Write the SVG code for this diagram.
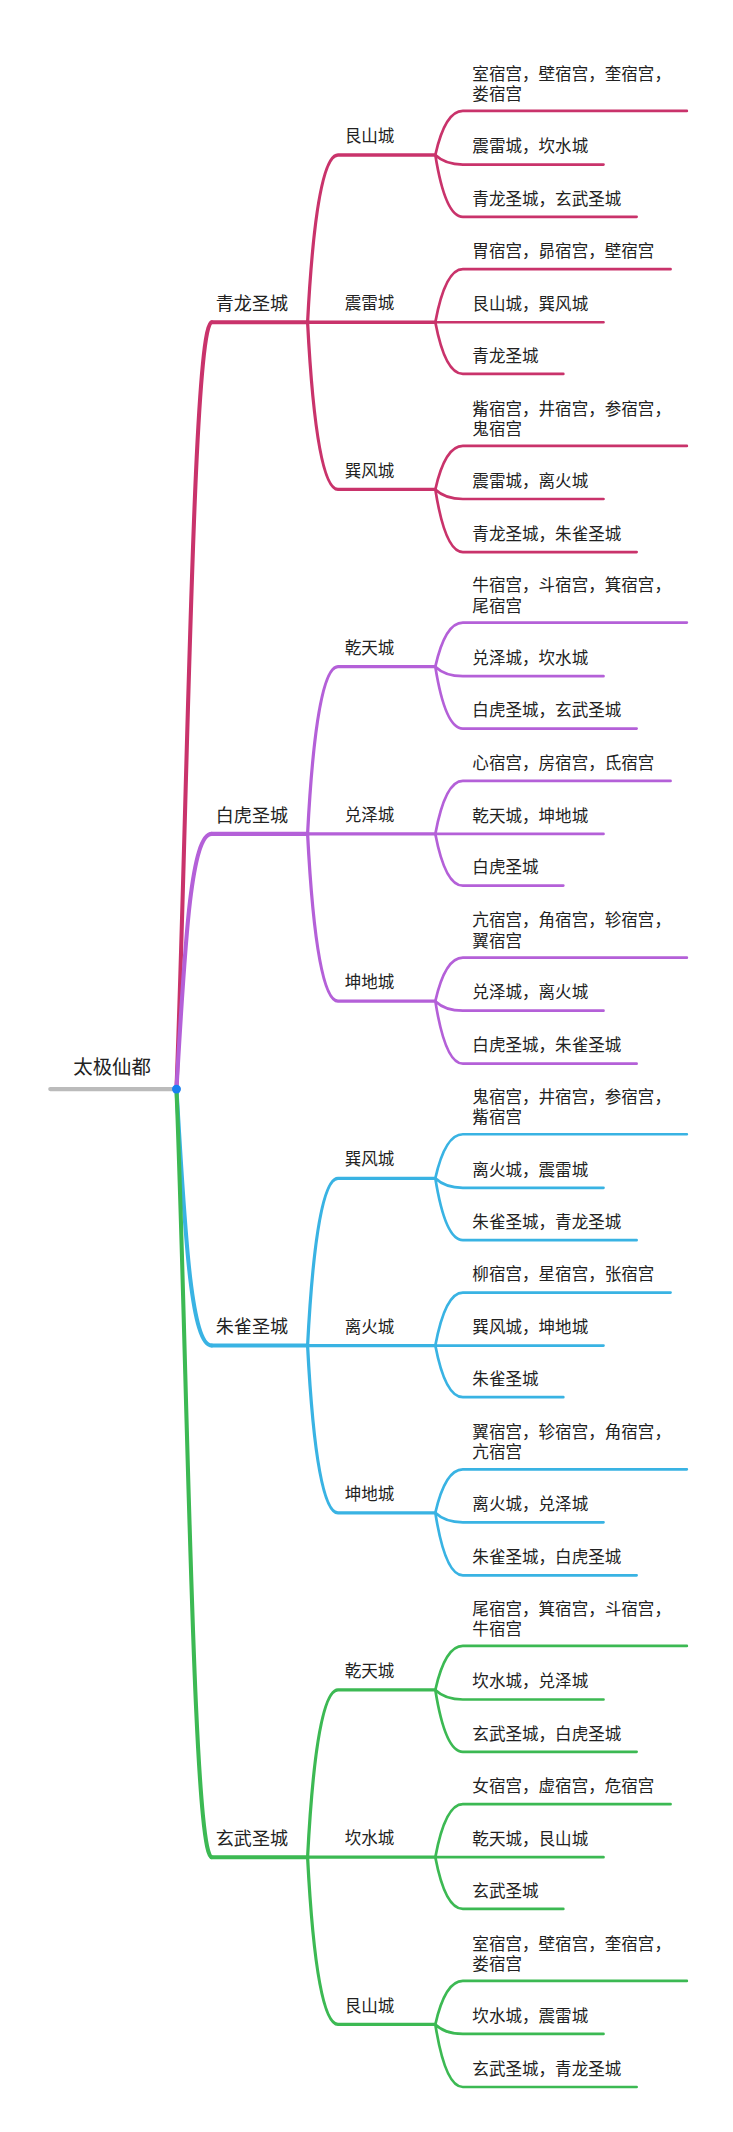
<svg xmlns="http://www.w3.org/2000/svg" width="733" height="2132" viewBox="0 0 733 2132">
<style>
text{font-family:"Noto Sans CJK SC","Noto Sans",sans-serif;fill:#222;font-size:12.2px}
.l1{font-size:13.3px}.rt{font-size:14.3px}
</style>
<defs>
<g id="br" fill="none" stroke-linecap="round">
<path stroke-width="3" d="M156,0 H226.6"/>
<path stroke-width="2.4" d="M226.6,0 Q233,-123 249,-123 H320.7 M226.6,0 H320.7 M226.6,0 Q233,123 249,123 H320.7"/>
<path stroke-width="2" d="M320.7,-123 Q328,-155.4 341,-155.4 H506 M320.7,-123 Q328,-116 341,-116 H444.6 M320.7,-123 Q328,-77.5 341,-77.5 H469 M320.7,0 Q328,-39 341,-39 H494 M320.7,0 H444.6 M320.7,0 Q328,38 341,38 H415 M320.7,123 Q328,91 341,91 H506 M320.7,123 Q328,130 341,130 H444.6 M320.7,123 Q328,169 341,169 H469"/>
</g>
</defs>
<g transform="scale(1.3574 1.3597)">
<g id="connectors" fill="none" stroke-linecap="round">
<path d="M37,801 H130" stroke="#bbb" stroke-width="3"/>
<g stroke="#c9336b"><path stroke-width="3" d="M130,801 C138,600 142,237 156,237"/><use href="#br" y="237"/></g>
<g stroke="#b460d8"><path stroke-width="3" d="M130,801 C136,700 140,613.3 156,613.3"/><use href="#br" y="613.3"/></g>
<g stroke="#39b3e3"><path stroke-width="3" d="M130,801 C136,900 140,989.6 156,989.6"/><use href="#br" y="989.6"/></g>
<g stroke="#3cb953"><path stroke-width="3" d="M130,801 C138,1000 142,1365.9 156,1365.9"/><use href="#br" y="1365.9"/></g>
</g>
<g id="root"><text class="rt" x="54" y="790">太极仙都</text><circle cx="130" cy="801" r="3.3" fill="#1a7ff0"/></g>

<g id="g0" transform="translate(0,237)">
<text class="l1" x="159" y="-9">青龙圣城</text>
<g id="g0a"><text x="254" y="-132.5">艮山城</text>
<text x="348" y="-178.4">室宿宫，壁宿宫，奎宿宫，</text><text x="348" y="-163.4">娄宿宫</text>
<text x="348" y="-125">震雷城，坎水城</text><text x="348" y="-86.5">青龙圣城，玄武圣城</text></g>
<g id="g0b"><text x="254" y="-9.5">震雷城</text>
<text x="348" y="-48">胃宿宫，昴宿宫，壁宿宫</text><text x="348" y="-9">艮山城，巽风城</text><text x="348" y="29">青龙圣城</text></g>
<g id="g0c"><text x="254" y="113.5">巽风城</text>
<text x="348" y="68">觜宿宫，井宿宫，参宿宫，</text><text x="348" y="83">鬼宿宫</text>
<text x="348" y="121">震雷城，离火城</text><text x="348" y="160">青龙圣城，朱雀圣城</text></g>
</g>

<g id="g1" transform="translate(0,613.3)">
<text class="l1" x="159" y="-9">白虎圣城</text>
<g id="g1a"><text x="254" y="-132.5">乾天城</text>
<text x="348" y="-178.4">牛宿宫，斗宿宫，箕宿宫，</text><text x="348" y="-163.4">尾宿宫</text>
<text x="348" y="-125">兑泽城，坎水城</text><text x="348" y="-86.5">白虎圣城，玄武圣城</text></g>
<g id="g1b"><text x="254" y="-9.5">兑泽城</text>
<text x="348" y="-48">心宿宫，房宿宫，氐宿宫</text><text x="348" y="-9">乾天城，坤地城</text><text x="348" y="29">白虎圣城</text></g>
<g id="g1c"><text x="254" y="113.5">坤地城</text>
<text x="348" y="68">亢宿宫，角宿宫，轸宿宫，</text><text x="348" y="83">翼宿宫</text>
<text x="348" y="121">兑泽城，离火城</text><text x="348" y="160">白虎圣城，朱雀圣城</text></g>
</g>

<g id="g2" transform="translate(0,989.6)">
<text class="l1" x="159" y="-9">朱雀圣城</text>
<g id="g2a"><text x="254" y="-132.5">巽风城</text>
<text x="348" y="-178.4">鬼宿宫，井宿宫，参宿宫，</text><text x="348" y="-163.4">觜宿宫</text>
<text x="348" y="-125">离火城，震雷城</text><text x="348" y="-86.5">朱雀圣城，青龙圣城</text></g>
<g id="g2b"><text x="254" y="-9.5">离火城</text>
<text x="348" y="-48">柳宿宫，星宿宫，张宿宫</text><text x="348" y="-9">巽风城，坤地城</text><text x="348" y="29">朱雀圣城</text></g>
<g id="g2c"><text x="254" y="113.5">坤地城</text>
<text x="348" y="68">翼宿宫，轸宿宫，角宿宫，</text><text x="348" y="83">亢宿宫</text>
<text x="348" y="121">离火城，兑泽城</text><text x="348" y="160">朱雀圣城，白虎圣城</text></g>
</g>

<g id="g3" transform="translate(0,1365.9)">
<text class="l1" x="159" y="-9">玄武圣城</text>
<g id="g3a"><text x="254" y="-132.5">乾天城</text>
<text x="348" y="-178.4">尾宿宫，箕宿宫，斗宿宫，</text><text x="348" y="-163.4">牛宿宫</text>
<text x="348" y="-125">坎水城，兑泽城</text><text x="348" y="-86.5">玄武圣城，白虎圣城</text></g>
<g id="g3b"><text x="254" y="-9.5">坎水城</text>
<text x="348" y="-48">女宿宫，虚宿宫，危宿宫</text><text x="348" y="-9">乾天城，艮山城</text><text x="348" y="29">玄武圣城</text></g>
<g id="g3c"><text x="254" y="113.5">艮山城</text>
<text x="348" y="68">室宿宫，壁宿宫，奎宿宫，</text><text x="348" y="83">娄宿宫</text>
<text x="348" y="121">坎水城，震雷城</text><text x="348" y="160">玄武圣城，青龙圣城</text></g>
</g>
</g>
</svg>
